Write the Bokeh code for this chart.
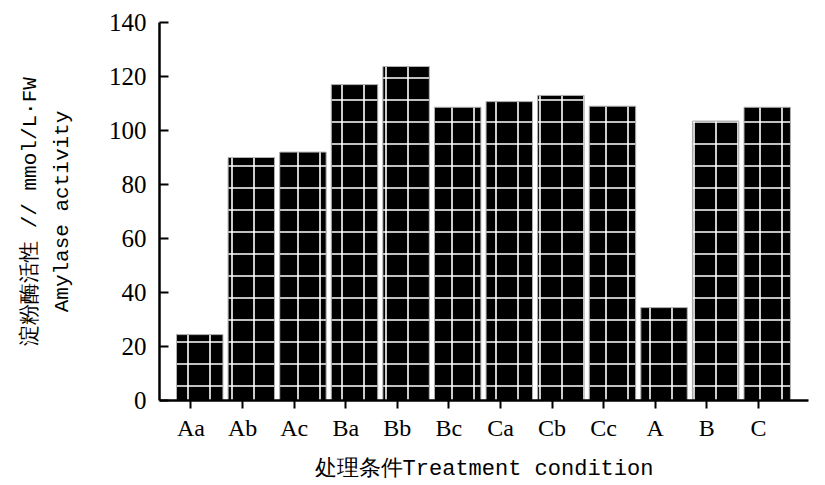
from bokeh.plotting import figure
from bokeh.models import FixedTicker, ColumnDataSource, Range1d, Title
from bokeh.embed import file_html
from bokeh.resources import INLINE

categories = ["Aa", "Ab", "Ac", "Ba", "Bb", "Bc", "Ca", "Cb", "Cc", "A", "B", "C"]
values = [24.4, 90.0, 92.0, 117.0, 123.7, 108.6, 110.7, 113.0, 109.0, 34.4, 103.5, 108.6]
y_ticks = [0, 20, 40, 60, 80, 100, 120, 140]
y_label_cn = "淀粉酶活性 // mmol/L·FW"
y_label_en = "Amylase activity"
x_label = "处理条件Treatment condition"

xs = list(range(len(categories)))
bar_offset = 0.17
src = ColumnDataSource(dict(x=[x + bar_offset for x in xs], top=values))

p = figure(frame_width=649, frame_height=378, output_backend="svg", toolbar_location=None,
           x_range=Range1d(-0.61, 11.97), y_range=Range1d(0, 140),
           min_border_left=159, min_border_right=9, min_border_top=22, min_border_bottom=85)
p.outline_line_color = None
p.xgrid.visible = False
p.ygrid.visible = False

p.vbar(x="x", top="top", bottom=0, width=0.9, source=src,
       fill_color="black", line_color="#b0b0b0", line_width=1,
       hatch_pattern="cross", hatch_color="white", hatch_scale=22, hatch_weight=1.6)

serif = "Liberation Serif"
mono = "Liberation Mono"

xa = p.xaxis[0]
xa.ticker = FixedTicker(ticks=xs)
xa.major_label_overrides = {i: c for i, c in enumerate(categories)}
xa.major_tick_in = 0
xa.major_tick_out = 8
xa.major_tick_line_width = 2
xa.minor_tick_line_color = None
xa.axis_line_width = 2.5
xa.major_label_standoff = 6
xa.major_label_text_font = serif
xa.major_label_text_font_size = "24px"
xa.major_label_text_color = "black"
xa.axis_label = x_label
xa.axis_label_standoff = 13
xa.axis_label_text_font = mono
xa.axis_label_text_font_size = "22px"
xa.axis_label_text_font_style = "normal"
xa.axis_label_text_color = "black"

ya = p.yaxis[0]
ya.ticker = FixedTicker(ticks=y_ticks)
ya.major_tick_in = 9
ya.major_tick_out = 0
ya.major_tick_line_width = 2
ya.minor_tick_line_color = None
ya.axis_line_width = 2.5
ya.major_label_standoff = 13
ya.major_label_text_font = serif
ya.major_label_text_font_size = "25px"
ya.major_label_text_color = "black"
ya.axis_label = y_label_en
ya.axis_label_standoff = 32
ya.axis_label_text_font = mono
ya.axis_label_text_font_size = "21px"
ya.axis_label_text_font_style = "normal"
ya.axis_label_text_color = "black"

p.add_layout(Title(text=y_label_cn, align="center", standoff=12,
                   text_font=mono, text_font_size="21px", text_font_style="normal",
                   text_color="black"), "left")

open("out.html", "w").write(file_html(p, INLINE))
